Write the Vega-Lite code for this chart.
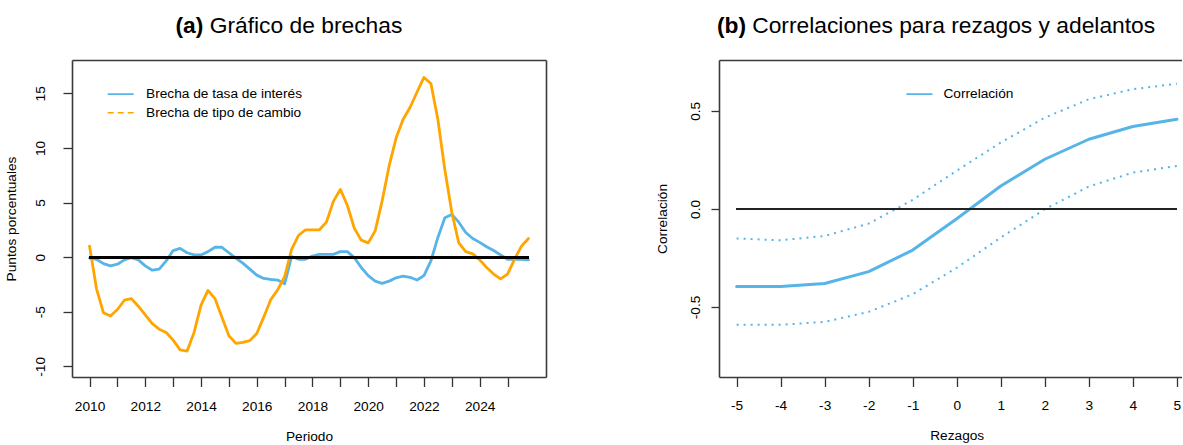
{
  "$schema": "https://vega.github.io/schema/vega-lite/v6.json",
  "background": "white",
  "padding": {"left": 4, "top": 14, "right": 0, "bottom": 0},
  "config": {
    "view": {"stroke": null},
    "font": "Liberation Sans",
    "axis": {
      "grid": false,
      "labelFont": "Liberation Sans",
      "titleFont": "Liberation Sans",
      "labelFontSize": 13.7,
      "titleFontSize": 13.7,
      "titleFontWeight": "normal",
      "labelColor": "#000000",
      "titleColor": "#000000",
      "tickColor": "#333333",
      "tickWidth": 1.3,
      "domainColor": "#3a3a3a",
      "domainWidth": 1.6,
      "labelFlush": false,
      "labelOverlap": false
    },
    "legend": {
      "orient": "none",
      "title": null,
      "symbolType": "stroke",
      "symbolSize": 676,
      "symbolStrokeWidth": 1.6,
      "labelFont": "Liberation Sans",
      "labelFontSize": 13.7,
      "labelColor": "#000000",
      "padding": 0,
      "clipHeight": 13.7,
      "rowPadding": 3.6
    }
  },
  "datasets": {
    "gaps": [
      {"t": 2010.00, "s": "Brecha de tasa de interés", "v": -0.1},
      {"t": 2010.25, "s": "Brecha de tasa de interés", "v": -0.2},
      {"t": 2010.50, "s": "Brecha de tasa de interés", "v": -0.6},
      {"t": 2010.75, "s": "Brecha de tasa de interés", "v": -0.8},
      {"t": 2011.00, "s": "Brecha de tasa de interés", "v": -0.65},
      {"t": 2011.25, "s": "Brecha de tasa de interés", "v": -0.25},
      {"t": 2011.50, "s": "Brecha de tasa de interés", "v": -0.05},
      {"t": 2011.75, "s": "Brecha de tasa de interés", "v": -0.25},
      {"t": 2012.00, "s": "Brecha de tasa de interés", "v": -0.8},
      {"t": 2012.25, "s": "Brecha de tasa de interés", "v": -1.2},
      {"t": 2012.50, "s": "Brecha de tasa de interés", "v": -1.1},
      {"t": 2012.75, "s": "Brecha de tasa de interés", "v": -0.35},
      {"t": 2013.00, "s": "Brecha de tasa de interés", "v": 0.6},
      {"t": 2013.25, "s": "Brecha de tasa de interés", "v": 0.8},
      {"t": 2013.50, "s": "Brecha de tasa de interés", "v": 0.4},
      {"t": 2013.75, "s": "Brecha de tasa de interés", "v": 0.2},
      {"t": 2014.00, "s": "Brecha de tasa de interés", "v": 0.2},
      {"t": 2014.25, "s": "Brecha de tasa de interés", "v": 0.5},
      {"t": 2014.50, "s": "Brecha de tasa de interés", "v": 0.9},
      {"t": 2014.75, "s": "Brecha de tasa de interés", "v": 0.9},
      {"t": 2015.00, "s": "Brecha de tasa de interés", "v": 0.4},
      {"t": 2015.25, "s": "Brecha de tasa de interés", "v": -0.1},
      {"t": 2015.50, "s": "Brecha de tasa de interés", "v": -0.55},
      {"t": 2015.75, "s": "Brecha de tasa de interés", "v": -1.1},
      {"t": 2016.00, "s": "Brecha de tasa de interés", "v": -1.65},
      {"t": 2016.25, "s": "Brecha de tasa de interés", "v": -1.95},
      {"t": 2016.50, "s": "Brecha de tasa de interés", "v": -2.05},
      {"t": 2016.75, "s": "Brecha de tasa de interés", "v": -2.1},
      {"t": 2017.00, "s": "Brecha de tasa de interés", "v": -2.45},
      {"t": 2017.25, "s": "Brecha de tasa de interés", "v": 0.05},
      {"t": 2017.50, "s": "Brecha de tasa de interés", "v": -0.2},
      {"t": 2017.75, "s": "Brecha de tasa de interés", "v": -0.2},
      {"t": 2018.00, "s": "Brecha de tasa de interés", "v": 0.1},
      {"t": 2018.25, "s": "Brecha de tasa de interés", "v": 0.25},
      {"t": 2018.50, "s": "Brecha de tasa de interés", "v": 0.25},
      {"t": 2018.75, "s": "Brecha de tasa de interés", "v": 0.25},
      {"t": 2019.00, "s": "Brecha de tasa de interés", "v": 0.5},
      {"t": 2019.25, "s": "Brecha de tasa de interés", "v": 0.5},
      {"t": 2019.50, "s": "Brecha de tasa de interés", "v": -0.05},
      {"t": 2019.75, "s": "Brecha de tasa de interés", "v": -0.95},
      {"t": 2020.00, "s": "Brecha de tasa de interés", "v": -1.7},
      {"t": 2020.25, "s": "Brecha de tasa de interés", "v": -2.2},
      {"t": 2020.50, "s": "Brecha de tasa de interés", "v": -2.4},
      {"t": 2020.75, "s": "Brecha de tasa de interés", "v": -2.2},
      {"t": 2021.00, "s": "Brecha de tasa de interés", "v": -1.9},
      {"t": 2021.25, "s": "Brecha de tasa de interés", "v": -1.75},
      {"t": 2021.50, "s": "Brecha de tasa de interés", "v": -1.85},
      {"t": 2021.75, "s": "Brecha de tasa de interés", "v": -2.1},
      {"t": 2022.00, "s": "Brecha de tasa de interés", "v": -1.7},
      {"t": 2022.25, "s": "Brecha de tasa de interés", "v": -0.35},
      {"t": 2022.50, "s": "Brecha de tasa de interés", "v": 1.8},
      {"t": 2022.75, "s": "Brecha de tasa de interés", "v": 3.6},
      {"t": 2023.00, "s": "Brecha de tasa de interés", "v": 3.9},
      {"t": 2023.25, "s": "Brecha de tasa de interés", "v": 3.2},
      {"t": 2023.50, "s": "Brecha de tasa de interés", "v": 2.25},
      {"t": 2023.75, "s": "Brecha de tasa de interés", "v": 1.7},
      {"t": 2024.00, "s": "Brecha de tasa de interés", "v": 1.35},
      {"t": 2024.25, "s": "Brecha de tasa de interés", "v": 0.95},
      {"t": 2024.50, "s": "Brecha de tasa de interés", "v": 0.6},
      {"t": 2024.75, "s": "Brecha de tasa de interés", "v": 0.2},
      {"t": 2025.00, "s": "Brecha de tasa de interés", "v": -0.2},
      {"t": 2025.25, "s": "Brecha de tasa de interés", "v": -0.2},
      {"t": 2025.50, "s": "Brecha de tasa de interés", "v": -0.2},
      {"t": 2025.75, "s": "Brecha de tasa de interés", "v": -0.25},
      {"t": 2010.00, "s": "Brecha de tipo de cambio", "v": 1.0},
      {"t": 2010.25, "s": "Brecha de tipo de cambio", "v": -2.9},
      {"t": 2010.50, "s": "Brecha de tipo de cambio", "v": -5.1},
      {"t": 2010.75, "s": "Brecha de tipo de cambio", "v": -5.4},
      {"t": 2011.00, "s": "Brecha de tipo de cambio", "v": -4.8},
      {"t": 2011.25, "s": "Brecha de tipo de cambio", "v": -3.95},
      {"t": 2011.50, "s": "Brecha de tipo de cambio", "v": -3.8},
      {"t": 2011.75, "s": "Brecha de tipo de cambio", "v": -4.5},
      {"t": 2012.00, "s": "Brecha de tipo de cambio", "v": -5.3},
      {"t": 2012.25, "s": "Brecha de tipo de cambio", "v": -6.1},
      {"t": 2012.50, "s": "Brecha de tipo de cambio", "v": -6.6},
      {"t": 2012.75, "s": "Brecha de tipo de cambio", "v": -6.9},
      {"t": 2013.00, "s": "Brecha de tipo de cambio", "v": -7.6},
      {"t": 2013.25, "s": "Brecha de tipo de cambio", "v": -8.5},
      {"t": 2013.50, "s": "Brecha de tipo de cambio", "v": -8.6},
      {"t": 2013.75, "s": "Brecha de tipo de cambio", "v": -6.9},
      {"t": 2014.00, "s": "Brecha de tipo de cambio", "v": -4.4},
      {"t": 2014.25, "s": "Brecha de tipo de cambio", "v": -3.05},
      {"t": 2014.50, "s": "Brecha de tipo de cambio", "v": -3.8},
      {"t": 2014.75, "s": "Brecha de tipo de cambio", "v": -5.5},
      {"t": 2015.00, "s": "Brecha de tipo de cambio", "v": -7.2},
      {"t": 2015.25, "s": "Brecha de tipo de cambio", "v": -7.9},
      {"t": 2015.50, "s": "Brecha de tipo de cambio", "v": -7.8},
      {"t": 2015.75, "s": "Brecha de tipo de cambio", "v": -7.65},
      {"t": 2016.00, "s": "Brecha de tipo de cambio", "v": -7.0},
      {"t": 2016.25, "s": "Brecha de tipo de cambio", "v": -5.5},
      {"t": 2016.50, "s": "Brecha de tipo de cambio", "v": -3.9},
      {"t": 2016.75, "s": "Brecha de tipo de cambio", "v": -3.0},
      {"t": 2017.00, "s": "Brecha de tipo de cambio", "v": -1.8},
      {"t": 2017.25, "s": "Brecha de tipo de cambio", "v": 0.7},
      {"t": 2017.50, "s": "Brecha de tipo de cambio", "v": 2.0},
      {"t": 2017.75, "s": "Brecha de tipo de cambio", "v": 2.5},
      {"t": 2018.00, "s": "Brecha de tipo de cambio", "v": 2.5},
      {"t": 2018.25, "s": "Brecha de tipo de cambio", "v": 2.5},
      {"t": 2018.50, "s": "Brecha de tipo de cambio", "v": 3.2},
      {"t": 2018.75, "s": "Brecha de tipo de cambio", "v": 5.1},
      {"t": 2019.00, "s": "Brecha de tipo de cambio", "v": 6.2},
      {"t": 2019.25, "s": "Brecha de tipo de cambio", "v": 4.75},
      {"t": 2019.50, "s": "Brecha de tipo de cambio", "v": 2.65},
      {"t": 2019.75, "s": "Brecha de tipo de cambio", "v": 1.55},
      {"t": 2020.00, "s": "Brecha de tipo de cambio", "v": 1.3},
      {"t": 2020.25, "s": "Brecha de tipo de cambio", "v": 2.4},
      {"t": 2020.50, "s": "Brecha de tipo de cambio", "v": 5.15},
      {"t": 2020.75, "s": "Brecha de tipo de cambio", "v": 8.35},
      {"t": 2021.00, "s": "Brecha de tipo de cambio", "v": 10.9},
      {"t": 2021.25, "s": "Brecha de tipo de cambio", "v": 12.6},
      {"t": 2021.50, "s": "Brecha de tipo de cambio", "v": 13.7},
      {"t": 2021.75, "s": "Brecha de tipo de cambio", "v": 15.1},
      {"t": 2022.00, "s": "Brecha de tipo de cambio", "v": 16.45},
      {"t": 2022.25, "s": "Brecha de tipo de cambio", "v": 15.9},
      {"t": 2022.50, "s": "Brecha de tipo de cambio", "v": 12.6},
      {"t": 2022.75, "s": "Brecha de tipo de cambio", "v": 8.0},
      {"t": 2023.00, "s": "Brecha de tipo de cambio", "v": 4.1},
      {"t": 2023.25, "s": "Brecha de tipo de cambio", "v": 1.3},
      {"t": 2023.50, "s": "Brecha de tipo de cambio", "v": 0.5},
      {"t": 2023.75, "s": "Brecha de tipo de cambio", "v": 0.3},
      {"t": 2024.00, "s": "Brecha de tipo de cambio", "v": -0.25},
      {"t": 2024.25, "s": "Brecha de tipo de cambio", "v": -0.95},
      {"t": 2024.50, "s": "Brecha de tipo de cambio", "v": -1.55},
      {"t": 2024.75, "s": "Brecha de tipo de cambio", "v": -2.0},
      {"t": 2025.00, "s": "Brecha de tipo de cambio", "v": -1.55},
      {"t": 2025.25, "s": "Brecha de tipo de cambio", "v": -0.2},
      {"t": 2025.50, "s": "Brecha de tipo de cambio", "v": 1.0},
      {"t": 2025.75, "s": "Brecha de tipo de cambio", "v": 1.7}
    ],
    "corr": [
      {"lag": -5, "corr": -0.396, "lo": -0.591, "hi": -0.151},
      {"lag": -4, "corr": -0.396, "lo": -0.591, "hi": -0.160},
      {"lag": -3, "corr": -0.380, "lo": -0.576, "hi": -0.138},
      {"lag": -2, "corr": -0.320, "lo": -0.525, "hi": -0.075},
      {"lag": -1, "corr": -0.210, "lo": -0.435, "hi": 0.046},
      {"lag": 0, "corr": -0.050, "lo": -0.300, "hi": 0.195},
      {"lag": 1, "corr": 0.117, "lo": -0.146, "hi": 0.338},
      {"lag": 2, "corr": 0.253, "lo": -0.002, "hi": 0.465},
      {"lag": 3, "corr": 0.355, "lo": 0.114, "hi": 0.559},
      {"lag": 4, "corr": 0.420, "lo": 0.185, "hi": 0.610},
      {"lag": 5, "corr": 0.457, "lo": 0.219, "hi": 0.638}
    ]
  },
  "spacing": 109,
  "resolve": {
    "scale": {"x": "independent", "y": "independent", "color": "independent"},
    "legend": {"color": "independent"}
  },
  "hconcat": [
    {
      "width": 474,
      "height": 317,
      "data": {"name": "gaps"},
      "resolve": {"axis": {"x": "independent", "y": "independent"}},
      "layer": [
        {
          "mark": {"type": "line", "strokeWidth": 2.8, "strokeJoin": "round", "strokeCap": "round"},
          "encoding": {
            "x": {
              "field": "t", "type": "quantitative",
              "scale": {"domain": [2009.37, 2026.38], "nice": false, "zero": false},
              "axis": {
                "orient": "bottom",
                "values": [2010, 2011, 2012, 2013, 2014, 2015, 2016, 2017, 2018, 2019, 2020, 2021, 2022, 2023, 2024, 2025],
                "format": "d",
                "labelExpr": "datum.value % 2 == 0 ? datum.label : ''",
                "tickSize": 9.5,
                "labelPadding": 23.5,
                "labelBaseline": "alphabetic",
                "labelAlign": "center",
                "title": "Periodo",
                "titleX": 237,
                "titleY": 63,
                "titleAlign": "center",
                "titleBaseline": "alphabetic"
              }
            },
            "y": {
              "field": "v", "type": "quantitative",
              "scale": {"domain": [-10.98, 18.05], "nice": false, "zero": false},
              "axis": {
                "orient": "left",
                "values": [-10, -5, 0, 5, 10, 15],
                "labelExpr": "replace(datum.label, '\u2212', '-')",
                "tickSize": 9,
                "labelAngle": 270,
                "labelAlign": "center",
                "labelBaseline": "alphabetic",
                "labelPadding": 18.5,
                "title": "Puntos porcentuales",
                "titleAngle": 270,
                "titleX": -57,
                "titleY": 158.5,
                "titleAlign": "center",
                "titleBaseline": "alphabetic"
              }
            },
            "color": {
              "field": "s", "type": "nominal",
              "scale": {"domain": ["Brecha de tasa de interés", "Brecha de tipo de cambio"], "range": ["#56B4E9", "#FFA500"]},
              "legend": {
                "legendX": 34.7,
                "legendY": 27.3,
                "labelOffset": 11.3,
                "encode": {
                  "symbols": {
                    "update": {
                      "strokeDash": {"signal": "datum.value === 'Brecha de tipo de cambio' ? [6, 4] : [1, 0]"}
                    }
                  }
                }
              }
            }
          }
        },
        {
          "mark": {"type": "rule", "color": "#000000", "strokeWidth": 2.3},
          "encoding": {
            "x": {
              "datum": 2010, "type": "quantitative",
              "scale": {"domain": [2009.37, 2026.38], "nice": false, "zero": false},
              "axis": {
                "orient": "top", "ticks": false, "labels": false, "domain": true,
                "title": "(a)", "titleFontSize": 22.8, "titleFontWeight": "bold",
                "titleX": 103, "titleY": -28, "titleAlign": "left", "titleBaseline": "alphabetic", "titleAngle": 0
              }
            },
            "x2": {"datum": 2025.75},
            "y": {
              "datum": 0, "type": "quantitative",
              "scale": {"domain": [-10.98, 18.05], "nice": false, "zero": false},
              "axis": {
                "orient": "right", "ticks": false, "labels": false, "domain": true,
                "title": "Gráfico de brechas", "titleFontSize": 22.8, "titleFontWeight": "normal",
                "titleX": -336.8, "titleY": -28, "titleAlign": "left", "titleBaseline": "alphabetic", "titleAngle": 0
              }
            }
          }
        }
      ]
    },
    {
      "width": 463,
      "height": 317,
      "data": {"name": "corr"},
      "resolve": {"axis": {"x": "independent", "y": "independent"}},
      "layer": [
        {
          "mark": {"type": "line", "strokeWidth": 3, "strokeJoin": "round", "strokeCap": "round"},
          "encoding": {
            "x": {
              "field": "lag", "type": "quantitative",
              "scale": {"domain": [-5.4, 5.116], "nice": false, "zero": false},
              "axis": {
                "orient": "bottom",
                "values": [-5, -4, -3, -2, -1, 0, 1, 2, 3, 4, 5],
                "format": "d",
                "labelExpr": "replace(datum.label, '\u2212', '-')",
                "tickSize": 9.5,
                "labelPadding": 23,
                "labelBaseline": "alphabetic",
                "labelAlign": "center",
                "title": "Rezagos",
                "titleX": 237.7,
                "titleY": 62,
                "titleAlign": "center",
                "titleBaseline": "alphabetic"
              }
            },
            "y": {
              "field": "corr", "type": "quantitative",
              "scale": {"domain": [-0.857, 0.759], "nice": false, "zero": false},
              "axis": {
                "orient": "left",
                "values": [-0.5, 0, 0.5],
                "format": ".1f",
                "labelExpr": "replace(datum.label, '\u2212', '-')",
                "tickSize": 8,
                "labelAngle": 270,
                "labelAlign": "center",
                "labelBaseline": "alphabetic",
                "labelPadding": 11.5,
                "title": "Correlación",
                "titleAngle": 270,
                "titleX": -52.5,
                "titleY": 158.5,
                "titleAlign": "center",
                "titleBaseline": "alphabetic"
              }
            },
            "color": {
              "datum": "Correlación",
              "scale": {"domain": ["Correlación"], "range": ["#56B4E9"]},
              "legend": {"legendX": 186.4, "legendY": 27.3, "labelOffset": 10}
            }
          }
        },
        {
          "mark": {"type": "line", "color": "#56B4E9", "strokeWidth": 2, "strokeDash": [2, 5]},
          "encoding": {
            "x": {"field": "lag", "type": "quantitative", "scale": {"domain": [-5.4, 5.116], "nice": false, "zero": false}, "axis": null},
            "y": {"field": "hi", "type": "quantitative", "scale": {"domain": [-0.857, 0.759], "nice": false, "zero": false}, "axis": null}
          }
        },
        {
          "mark": {"type": "line", "color": "#56B4E9", "strokeWidth": 2, "strokeDash": [2, 5]},
          "encoding": {
            "x": {"field": "lag", "type": "quantitative", "scale": {"domain": [-5.4, 5.116], "nice": false, "zero": false}, "axis": null},
            "y": {"field": "lo", "type": "quantitative", "scale": {"domain": [-0.857, 0.759], "nice": false, "zero": false}, "axis": null}
          }
        },
        {
          "mark": {"type": "rule", "color": "#222222", "strokeWidth": 2},
          "encoding": {
            "x": {
              "datum": -5, "type": "quantitative",
              "scale": {"domain": [-5.4, 5.116], "nice": false, "zero": false},
              "axis": {
                "orient": "top", "ticks": false, "labels": false, "domain": true,
                "title": "(b)", "titleFontSize": 22.8, "titleFontWeight": "bold",
                "titleX": -2.6, "titleY": -28, "titleAlign": "left", "titleBaseline": "alphabetic", "titleAngle": 0
              }
            },
            "x2": {"datum": 5},
            "y": {
              "datum": 0, "type": "quantitative",
              "scale": {"domain": [-0.857, 0.759], "nice": false, "zero": false},
              "axis": {
                "orient": "right", "ticks": false, "labels": false, "domain": false,
                "title": "Correlaciones para rezagos y adelantos", "titleFontSize": 22.8, "titleFontWeight": "normal",
                "titleX": -430.3, "titleY": -28, "titleAlign": "left", "titleBaseline": "alphabetic", "titleAngle": 0
              }
            }
          }
        }
      ]
    }
  ]
}
